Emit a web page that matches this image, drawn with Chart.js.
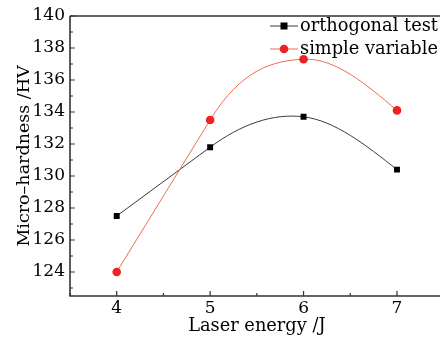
<!DOCTYPE html>
<html>
<head>
<meta charset="utf-8">
<script src="https://cdn.jsdelivr.net/npm/chart.js@4/dist/chart.umd.min.js"></script>
<style>
  html, body { margin: 0; padding: 0; background: #fff; overflow: hidden; }
  #wrap { width: 440px; height: 342px; overflow: hidden; }
  canvas { display: block; }
</style>
</head>
<body>
<div id="wrap"><canvas id="c" width="448" height="342"></canvas></div>
<script>
// Laser energy (J) and measured micro-hardness (HV)
const energies = [4, 5, 6, 7];
const orthogonalTest = [127.5, 131.8, 133.7, 130.4];
const simpleVariable = [124.0, 133.5, 137.3, 134.1];
const seriesNames = ['orthogonal test', 'simple variable'];
const xTickLabels = ['4', '5', '6', '7'];
const yTickLabels = ['124', '126', '128', '130', '132', '134', '136', '138', '140'];

const FONT = 'DejaVu Serif';
const AXIS = '#333333';
const TEXT = '#000000';

const toPoints = (ys) => energies.map((x, i) => ({ x, y: ys[i] }));

// Connecting curves: straight first segment, then a Hermite spline whose
// start tangent continues that segment. Positions come from the point
// elements the chart has already laid out on its scales.
const curvePlugin = {
  id: 'curves',
  beforeDatasetsDraw(chart) {
    const { ctx } = chart;
    ctx.save();
    chart.data.datasets.forEach((ds, di) => {
      const pts = chart.getDatasetMeta(di).data.map((p) => ({ x: p.x, y: p.y }));
      const n = pts.length;
      const slope = (a, b) => (b.y - a.y) / (b.x - a.x);
      const tangents = new Array(n);
      tangents[1] = slope(pts[0], pts[1]);
      for (let i = 2; i < n - 1; i++) tangents[i] = slope(pts[i - 1], pts[i + 1]);
      tangents[n - 1] = (3 * slope(pts[n - 2], pts[n - 1]) - tangents[n - 2]) / 2;

      ctx.strokeStyle = ds.lineColor;
      ctx.lineWidth = 1;
      ctx.beginPath();
      ctx.moveTo(pts[0].x, pts[0].y);
      ctx.lineTo(pts[1].x, pts[1].y);
      for (let i = 1; i < n - 1; i++) {
        const a = pts[i], b = pts[i + 1];
        const h = (b.x - a.x) / 3;
        ctx.bezierCurveTo(a.x + h, a.y + h * tangents[i],
                          b.x - h, b.y - h * tangents[i + 1],
                          b.x, b.y);
      }
      ctx.stroke();
    });
    ctx.restore();
  }
};

// Axis frame with inward major/minor ticks plus an in-plot legend
const framePlugin = {
  id: 'frame',
  afterDraw(chart) {
    const { ctx, chartArea: a, scales: { x, y } } = chart;
    ctx.save();
    ctx.strokeStyle = AXIS;
    ctx.lineWidth = 1.6;
    ctx.beginPath();
    ctx.moveTo(a.left, a.top); ctx.lineTo(a.right, a.top);
    ctx.moveTo(a.left, a.top); ctx.lineTo(a.left, a.bottom);
    ctx.lineTo(a.right, a.bottom);
    ctx.stroke();

    ctx.lineWidth = 1.2;
    ctx.beginPath();
    for (let v = 123; v <= 140; v += 1) {
      const py = y.getPixelForValue(v);
      const len = v % 2 === 0 ? 5 : 3;
      ctx.moveTo(a.left, py); ctx.lineTo(a.left + len, py);
    }
    for (let v = 3.5; v <= 7.5; v += 0.5) {
      const px = x.getPixelForValue(v);
      const len = Number.isInteger(v) ? 5 : 3;
      ctx.moveTo(px, a.bottom); ctx.lineTo(px, a.bottom - len);
    }
    ctx.stroke();

    // legend
    const rows = chart.data.datasets;
    const x0 = 270, x1 = 298, textX = 300;
    rows.forEach((ds, i) => {
      const cy = 26 + i * 23;
      ctx.strokeStyle = ds.lineColor;
      ctx.lineWidth = 1;
      ctx.beginPath(); ctx.moveTo(x0, cy); ctx.lineTo(x1, cy); ctx.stroke();
      ctx.fillStyle = ds.pointBackgroundColor;
      const mx = (x0 + x1) / 2;
      if (ds.pointStyle === 'rect') {
        ctx.fillRect(mx - 3.5, cy - 3.5, 7, 7);
      } else {
        ctx.beginPath(); ctx.arc(mx, cy, 4.3, 0, Math.PI * 2); ctx.fill();
      }
      ctx.fillStyle = TEXT;
      ctx.font = '17.8px "' + FONT + '"';
      ctx.textBaseline = 'middle';
      ctx.textAlign = 'left';
      ctx.fillText(ds.label, textX, cy);
    });
    ctx.restore();
  }
};

new Chart(document.getElementById('c'), {
  type: 'line',
  data: {
    datasets: [
      {
        label: seriesNames[0],
        data: toPoints(orthogonalTest),
        showLine: false,
        lineColor: '#3a3a3a',
        borderColor: '#3a3a3a',
        pointStyle: 'rect',
        pointRadius: 4.2,
        pointBackgroundColor: '#000000',
        pointBorderColor: '#000000',
        pointBorderWidth: 0
      },
      {
        label: seriesNames[1],
        data: toPoints(simpleVariable),
        showLine: false,
        lineColor: '#f06a50',
        borderColor: '#f06a50',
        pointStyle: 'circle',
        pointRadius: 4.3,
        pointBackgroundColor: '#ee2222',
        pointBorderColor: '#ee2222',
        pointBorderWidth: 0
      }
    ]
  },
  options: {
    responsive: false,
    animation: false,
    events: [],
    layout: { padding: { top: 16, right: 1, left: 0, bottom: 0 } },
    plugins: { legend: { display: false }, tooltip: { enabled: false } },
    scales: {
      x: {
        type: 'linear',
        min: 3.5, max: 7.5,
        grid: { display: false, drawTicks: false },
        border: { display: false },
        afterFit(s) { s.height = 46; },
        ticks: {
          stepSize: 0.5,
          padding: 2,
          color: TEXT,
          font: { family: FONT, size: 17 },
          callback: (v) => {
            const i = energies.indexOf(v);
            return i >= 0 ? xTickLabels[i] : '';
          }
        },
        title: {
          display: true,
          text: 'Laser energy /J',
          color: TEXT,
          font: { family: FONT, size: 17.8 },
          padding: { top: 0, bottom: 5 }
        }
      },
      y: {
        min: 122.5, max: 140,
        grid: { display: false, drawTicks: false },
        border: { display: false },
        afterFit(s) { s.width = 70; },
        afterBuildTicks(s) {
          s.ticks = yTickLabels.map((t) => ({ value: Number(t) }));
        },
        ticks: {
          padding: 5,
          color: TEXT,
          font: { family: FONT, size: 17 },
          callback: (v) => yTickLabels[yTickLabels.indexOf(String(v))]
        },
        title: {
          display: true,
          text: 'Micro–hardness /HV',
          color: TEXT,
          font: { family: FONT, size: 17.5 },
          padding: { top: 14, bottom: 0 }
        }
      }
    }
  },
  plugins: [curvePlugin, framePlugin]
});
</script>
</body>
</html>
